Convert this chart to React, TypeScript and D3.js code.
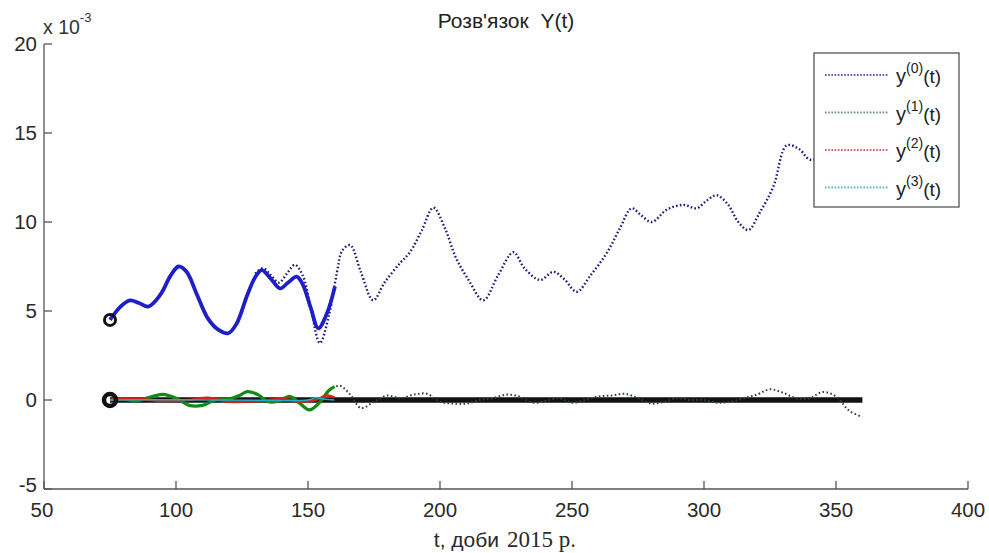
import React from "react";
import * as d3 from "d3";

// ---- data (values in units of 10^-3) ----
const xTicks = [50, 100, 150, 200, 250, 300, 350, 400];
const yTicks = [-5, 0, 5, 10, 15, 20];

const y0SolidT = [75, 79, 82.6, 86, 89.5, 94, 98, 101, 104, 108, 112, 116, 119.8, 123, 127, 130, 132.5, 136, 139.4, 142.5, 145.7, 148, 151, 153.9, 157, 160.2];
const y0SolidV = [4.5, 5.25, 5.6, 5.45, 5.25, 5.9, 7.0, 7.5, 7.2, 5.9, 4.6, 3.95, 3.75, 4.3, 5.9, 6.9, 7.3, 6.8, 6.27, 6.6, 6.93, 6.5, 5.2, 4.03, 4.8, 6.37];

const y0DotT = [130, 133, 136, 139, 142, 145, 148, 151, 154.5, 158, 161, 163, 166, 170, 174.7, 179, 184.9, 188.6, 193, 197.5, 202, 206, 211, 216.4, 222, 227.8, 232, 237.9, 242.9, 247, 251.8, 257, 263.1, 268, 272.6, 276, 280.2, 286, 292.2, 297.2, 301, 304.8, 309, 313, 316.8, 321, 326.3, 331.3, 336, 340.2, 345, 350, 355, 360];
const y0DotV = [7.1, 7.4, 7.0, 6.6, 7.1, 7.6, 7.0, 5.2, 3.2, 4.8, 7.2, 8.4, 8.7, 7.2, 5.6, 6.6, 7.7, 8.3, 9.5, 10.8, 9.6, 8.0, 6.7, 5.6, 7.0, 8.3, 7.4, 6.74, 7.2, 6.8, 6.08, 7.0, 8.24, 9.6, 10.77, 10.4, 10.0, 10.7, 10.96, 10.77, 11.2, 11.5, 11.0, 10.0, 9.55, 10.5, 12.0, 14.3, 14.1, 13.5, 13.8, 14.6, 15.2, 15.5];

const y1SolidT = [75, 80, 85, 90, 95, 100, 105, 110, 115, 120, 124, 127, 131, 135, 139, 143, 147, 150.5, 154, 158, 160];
const y1SolidV = [0, 0.05, -0.05, 0.15, 0.32, 0.1, -0.3, -0.3, 0.0, 0.05, 0.25, 0.47, 0.3, -0.1, -0.05, 0.2, -0.2, -0.56, -0.2, 0.55, 0.75];

const y1DotT = [158, 162, 166, 170, 175, 180, 185, 190, 195, 200, 205, 210, 215, 220, 225, 230, 235, 240, 245, 250, 255, 260, 265, 270, 275, 280, 285, 290, 295, 300, 305, 310, 315, 320, 325, 330, 335, 340, 345, 350, 355, 360];
const y1DotV = [0.55, 0.8, 0.3, -0.45, -0.1, 0.25, 0.1, 0.3, 0.35, -0.1, -0.2, -0.2, 0.0, 0.1, 0.3, 0.2, -0.15, -0.05, 0.1, -0.15, 0.0, 0.2, 0.25, 0.35, 0.1, -0.2, -0.1, 0.1, 0.0, 0.0, -0.15, -0.1, 0.1, 0.3, 0.6, 0.4, 0.1, 0.1, 0.45, 0.2, -0.6, -0.95];

const y2SolidT = [75, 85, 95, 105, 112, 120, 130, 140, 148, 153, 157, 160];
const y2SolidV = [0, 0.05, -0.05, 0.0, 0.12, -0.1, -0.08, 0.05, -0.1, 0.0, 0.25, 0.15];

const y3SolidT = [75, 100, 130, 150, 153, 156, 160];
const y3SolidV = [0, 0.02, -0.02, 0.0, 0.12, 0.05, 0.0];

const baseT = [75, 360];
const baseV = [0, 0];

const startT = [75, 75];
const startV = [4.5, 0];

const legendLabels = ["0", "1", "2", "3"];
const legendColors = ["#5a5ab8", "#6f8f6f", "#d06060", "#50b8a8"];

const W = 989;
const H = 553;
const sans = "'Liberation Sans', Arial, sans-serif";
const serif = "'Liberation Serif', 'Times New Roman', serif";

function zip(t: number[], v: number[]): [number, number][] {
  return t.map((d, i) => [d, v[i]]);
}

export default function App() {
  const x = d3.scaleLinear().domain([50, 400]).range([44, 968]);
  const y = d3.scaleLinear().domain([-5, 20]).range([489, 44]);
  const line = d3
    .line<[number, number]>()
    .x((d) => x(d[0]))
    .y((d) => y(d[1]))
    .curve(d3.curveCatmullRom.alpha(0.5));
  const straight = d3
    .line<[number, number]>()
    .x((d) => x(d[0]))
    .y((d) => y(d[1]));

  const axisColor = "#555";
  const legX = 814;
  const legY = 53;
  const legW = 145;
  const legH = 154;

  return (
    <svg
      width={W}
      height={H}
      style={{ position: "absolute", left: 0, top: 0, background: "#fff", fontFamily: sans }}
    >
      <rect x={0} y={0} width={W} height={H} fill="#fff" />
      {/* title */}
      <text x={506} y={28} textAnchor="middle" fontFamily={sans} fontSize={21} fill="#222">
        Розв'язок{"\u00a0\u00a0"}Y(t)
      </text>
      {/* exponent */}
      <text x={43} y={34} fontFamily={sans} fontSize={19.5} fill="#333">
        x 10
        <tspan dy={-12} fontSize={13}>-3</tspan>
      </text>

      {/* axes */}
      <line x1={x(50)} x2={x(400)} y1={y(-5)} y2={y(-5)} stroke={axisColor} strokeWidth={1.3} />
      <line x1={x(50)} x2={x(50)} y1={y(-5)} y2={y(20)} stroke={axisColor} strokeWidth={1.3} />
      {xTicks.map((t) => (
        <g key={"xt" + t}>
          <line x1={x(t)} x2={x(t)} y1={y(-5)} y2={y(-5) - 8} stroke={axisColor} strokeWidth={1.3} />
          <text x={x(t) - (t === 50 ? 2 : 0)} y={y(-5) + 28} textAnchor="middle" fontFamily={sans} fontSize={20.5} fill="#2a2a2a">
            {t}
          </text>
        </g>
      ))}
      {yTicks.map((v) => (
        <g key={"yt" + v}>
          <line x1={x(50)} x2={x(50) + 8} y1={y(v)} y2={y(v)} stroke={axisColor} strokeWidth={1.3} />
          <text x={37} y={y(v) + 7 - (v === -5 ? 4 : 0)} textAnchor="end" fontFamily={sans} fontSize={20.5} fill="#2a2a2a">
            {v}
          </text>
        </g>
      ))}

      {/* x label */}
      <text x={499} y={547} textAnchor="end" fontFamily={sans} fontSize={21} fill="#2a2a2a">
        t, доби
      </text>
      <text x={507} y={547} textAnchor="start" fontFamily={serif} fontSize={23} fill="#2a2a2a">
        2015 р.
      </text>

      {/* series */}
      <path d={straight(zip(baseT, baseV)) || ""} fill="none" stroke="#111" strokeWidth={5.5} />
      <path d={line(zip(y0DotT, y0DotV)) || ""} fill="none" stroke="#1e1e78" strokeWidth={2.4} strokeDasharray="1.6,2.2" />
      <path d={line(zip(y1DotT, y1DotV)) || ""} fill="none" stroke="#2c4a2c" strokeWidth={2} strokeDasharray="1.6,2.4" />
      <path d={line(zip(y0SolidT, y0SolidV)) || ""} fill="none" stroke="#1f1fc8" strokeWidth={3.8} />
      <path d={line(zip(y1SolidT, y1SolidV)) || ""} fill="none" stroke="#138a13" strokeWidth={3.2} />
      <path d={line(zip(y2SolidT, y2SolidV)) || ""} fill="none" stroke="#d42020" strokeWidth={2.5} />
      <path d={line(zip(y3SolidT, y3SolidV)) || ""} fill="none" stroke="#20b0c0" strokeWidth={1.5} />
      {startT.map((t, i) => (
        <circle key={"st" + i} cx={x(t)} cy={y(startV[i])} r={i === 0 ? 5.5 : 6} fill="none" stroke="#111" strokeWidth={i === 0 ? 3 : 4.5} />
      ))}

      {/* legend */}
      <rect x={legX} y={legY} width={legW} height={legH} fill="#fff" stroke="#555" strokeWidth={1.3} />
      {legendLabels.map((lab, i) => {
        const cy = legY + 22 + i * 37.5;
        return (
          <g key={"lg" + lab}>
            <line x1={825} x2={889} y1={cy} y2={cy} stroke={legendColors[i]} strokeWidth={2} strokeDasharray="1.6,1.6" />
            <text x={896} y={cy + 8} fontFamily={sans} fontSize={20} fill="#222">
              y
              <tspan dy={-10} fontSize={14}>({lab})</tspan>
              <tspan dy={10} fontSize={19}>(t)</tspan>
            </text>
          </g>
        );
      })}
    </svg>
  );
}
